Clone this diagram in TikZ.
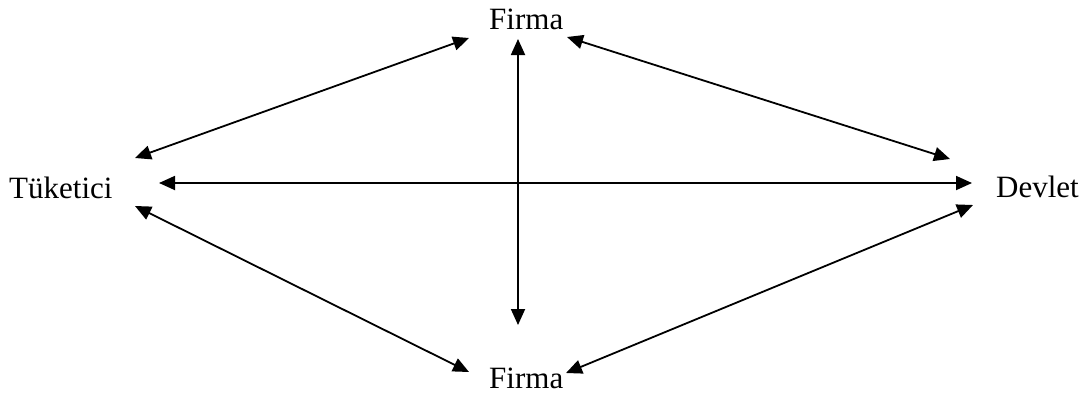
\documentclass[tikz,border=0pt]{standalone}
\usepackage{fontspec}
\setmainfont{Liberation Serif}
\usetikzlibrary{arrows.meta}
\begin{document}
\begin{tikzpicture}[x=1pt,y=-1pt,
  lbl/.style={inner sep=0pt,anchor=base west,font=\fontsize{31}{36}\selectfont},
  link/.style={line width=1.8pt,{Triangle[length=16pt,width=14pt]}-{Triangle[length=16pt,width=14pt]}}]
\useasboundingbox (0,0) rectangle (1083,394);
\node[lbl] (ftop) at (489,29) {Firma};
\node[lbl] (fbot) at (489,388) {Firma};
\node[lbl] (tuk) at (9,198) {Tüketici};
\node[lbl] (dev) at (996,197) {Devlet};
\coordinate (vt) at (518,39);
\coordinate (vb) at (518,325);
\coordinate (hl) at (159,183);
\coordinate (hr) at (972,183);
\coordinate (tl1) at (469,38);
\coordinate (tl2) at (135,158);
\coordinate (tr1) at (567,37);
\coordinate (tr2) at (950,159);
\coordinate (bl1) at (135,206);
\coordinate (bl2) at (469,372);
\coordinate (br1) at (566,373);
\coordinate (br2) at (973,205);
\draw[link] (vt) -- (vb);
\draw[link] (hl) -- (hr);
\draw[link] (tl1) -- (tl2);
\draw[link] (tr1) -- (tr2);
\draw[link] (bl1) -- (bl2);
\draw[link] (br1) -- (br2);
\end{tikzpicture}
\end{document}
